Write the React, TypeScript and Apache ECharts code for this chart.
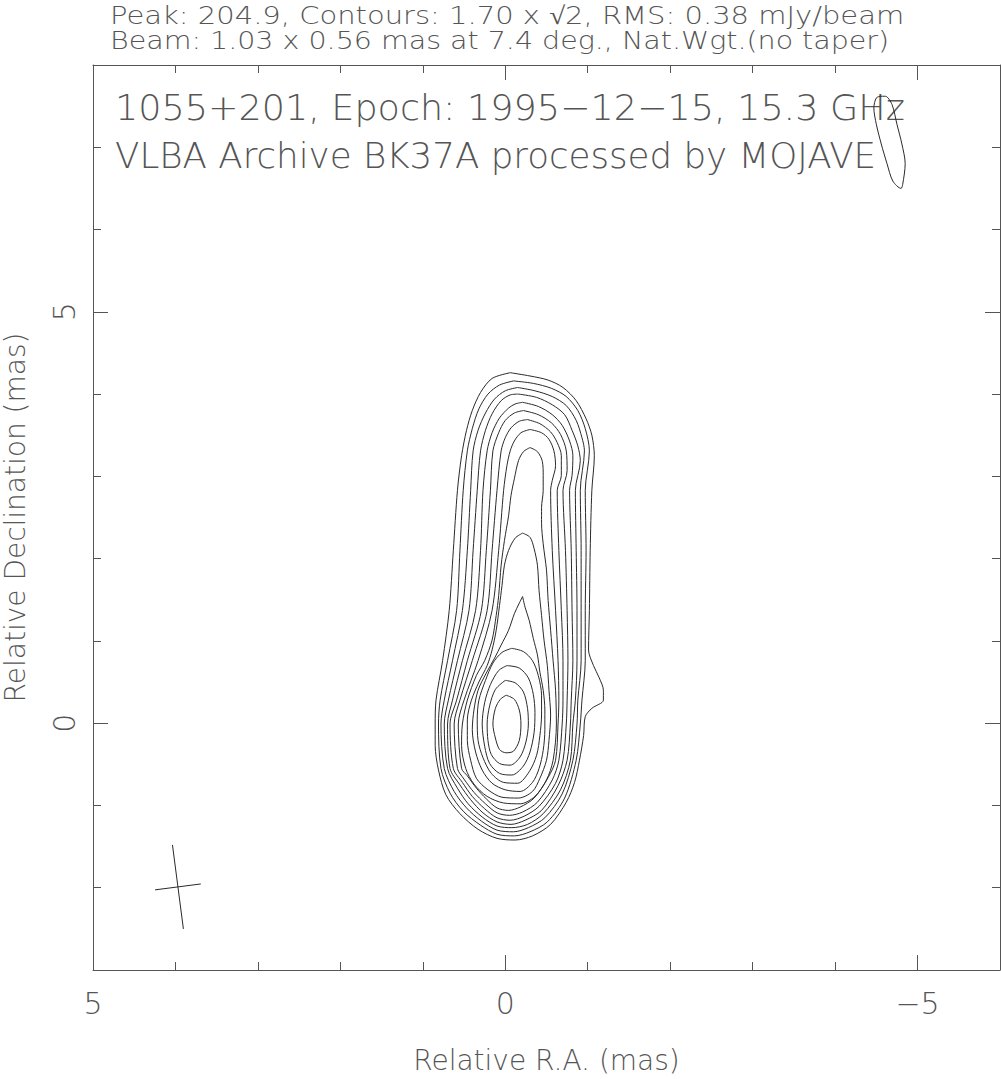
import React, { useEffect, useRef } from "react";
import * as echarts from "echarts";

const TITLE_LINES = [
  "Peak: 204.9, Contours: 1.70 x \u221A2, RMS: 0.38 mJy/beam",
  "Beam: 1.03 x 0.56 mas at 7.4 deg., Nat.Wgt.(no taper)",
];
const PLOT_LINES = [
  "1055+201, Epoch: 1995\u221212\u221215, 15.3 GHz",
  "VLBA Archive BK37A processed by MOJAVE",
];
const X_NAME = "Relative R.A. (mas)";
const Y_NAME = "Relative Declination (mas)";
const X_RANGE = [-6, 5];
const Y_RANGE = [-3, 8];
const X_MAJOR = [5, 0, -5];
const X_MINOR = [4, 3, 2, 1, -1, -2, -3, -4];
const Y_MAJOR = [0, 5];
const Y_MINOR = [-2, -1, 1, 2, 3, 4, 6, 7];
const BEAM_MAJOR = 1.03;
const BEAM_MINOR = 0.56;
const BEAM_PA = 7.4;
const BEAM_CENTER = [3.97, -1.99];

// contours, outermost (1.70 mJy/beam) to innermost, [RA offset, Dec offset] in mas
const C00 = [[-0.06,4.26],[-0.30,4.22],[-0.52,4.17],[-0.70,4.08],[-0.86,3.92],[-0.98,3.70],[-1.05,3.50],[-1.08,3.25],[-1.05,2.83],[-1.03,2.10],[-1.02,1.37],[-1.01,0.89],[-1.07,0.70],[-1.14,0.55],[-1.19,0.40],[-1.19,0.28],[-1.05,0.18],[-0.97,0.08],[-0.95,-0.15],[-0.90,-0.45],[-0.84,-0.72],[-0.74,-0.96],[-0.55,-1.23],[-0.33,-1.37],[-0.12,-1.42],[0.10,-1.40],[0.33,-1.29],[0.55,-1.10],[0.72,-0.87],[0.81,-0.57],[0.85,-0.27],[0.85,-0.01],[0.84,0.28],[0.76,0.76],[0.68,1.37],[0.63,2.10],[0.58,2.83],[0.53,3.25],[0.47,3.56],[0.40,3.80],[0.30,4.02],[0.16,4.19],[-0.06,4.26]];
const C01 = [[-0.10,4.16],[-0.34,4.13],[-0.56,4.07],[-0.74,3.97],[-0.88,3.80],[-0.97,3.58],[-1.02,3.31],[-0.97,2.83],[-0.98,2.10],[-0.97,1.37],[-0.97,0.76],[-0.93,0.28],[-0.91,-0.01],[-0.86,-0.45],[-0.72,-0.91],[-0.51,-1.20],[-0.30,-1.32],[-0.11,-1.37],[0.10,-1.35],[0.30,-1.24],[0.51,-1.07],[0.67,-0.85],[0.78,-0.55],[0.81,-0.01],[0.79,0.28],[0.70,0.76],[0.59,1.37],[0.55,2.10],[0.51,2.83],[0.46,3.31],[0.40,3.58],[0.32,3.82],[0.21,4.00],[0.07,4.11],[-0.10,4.16]];
const C02 = [[-0.15,4.08],[-0.36,4.04],[-0.57,3.97],[-0.74,3.86],[-0.86,3.68],[-0.93,3.47],[-0.96,3.31],[-0.91,2.83],[-0.92,2.10],[-0.92,1.37],[-0.92,0.76],[-0.88,0.28],[-0.87,-0.01],[-0.82,-0.45],[-0.69,-0.86],[-0.48,-1.15],[-0.28,-1.27],[-0.10,-1.32],[0.10,-1.30],[0.29,-1.19],[0.47,-1.03],[0.62,-0.83],[0.74,-0.55],[0.78,-0.01],[0.74,0.28],[0.64,0.76],[0.52,1.37],[0.46,2.10],[0.42,2.83],[0.39,3.31],[0.33,3.56],[0.24,3.77],[0.13,3.94],[0.00,4.04],[-0.15,4.08]];
const C03 = [[-0.16,4.00],[-0.38,3.96],[-0.57,3.87],[-0.72,3.75],[-0.81,3.56],[-0.88,3.37],[-0.91,3.19],[-0.85,2.83],[-0.86,2.10],[-0.87,1.37],[-0.87,0.76],[-0.85,0.28],[-0.82,-0.01],[-0.79,-0.45],[-0.67,-0.81],[-0.46,-1.10],[-0.27,-1.23],[-0.08,-1.27],[0.10,-1.25],[0.28,-1.14],[0.45,-0.98],[0.58,-0.79],[0.70,-0.55],[0.74,-0.01],[0.69,0.28],[0.58,0.76],[0.44,1.37],[0.39,2.10],[0.34,2.83],[0.30,3.31],[0.24,3.56],[0.16,3.76],[0.05,3.92],[-0.06,3.99],[-0.16,4.00]];
const C04 = [[-0.21,3.90],[-0.40,3.85],[-0.57,3.75],[-0.69,3.62],[-0.78,3.43],[-0.82,3.25],[-0.81,3.01],[-0.78,2.83],[-0.80,2.10],[-0.81,1.37],[-0.82,0.76],[-0.80,0.28],[-0.79,-0.01],[-0.75,-0.45],[-0.64,-0.76],[-0.44,-1.06],[-0.24,-1.18],[-0.07,-1.23],[0.10,-1.20],[0.27,-1.09],[0.42,-0.93],[0.55,-0.75],[0.67,-0.55],[0.70,-0.01],[0.64,0.28],[0.52,0.76],[0.36,1.37],[0.30,2.10],[0.27,2.83],[0.22,3.31],[0.16,3.53],[0.07,3.71],[-0.04,3.83],[-0.12,3.88],[-0.21,3.90]];
const C05 = [[-0.22,3.80],[-0.40,3.75],[-0.56,3.65],[-0.67,3.51],[-0.74,3.31],[-0.75,3.07],[-0.70,2.83],[-0.73,2.10],[-0.75,1.37],[-0.76,0.76],[-0.75,0.28],[-0.74,-0.01],[-0.70,-0.45],[-0.61,-0.73],[-0.41,-1.01],[-0.23,-1.13],[-0.06,-1.18],[0.10,-1.15],[0.25,-1.04],[0.40,-0.89],[0.52,-0.72],[0.63,-0.55],[0.67,-0.01],[0.59,0.28],[0.46,0.76],[0.29,1.37],[0.23,2.10],[0.18,2.83],[0.15,3.31],[0.08,3.53],[0.00,3.68],[-0.11,3.77],[-0.22,3.80]];
const C06 = [[-0.27,3.69],[-0.42,3.64],[-0.55,3.54],[-0.63,3.41],[-0.68,3.25],[-0.68,3.01],[-0.63,2.83],[-0.65,2.10],[-0.68,1.37],[-0.70,0.76],[-0.70,0.28],[-0.69,-0.01],[-0.65,-0.45],[-0.57,-0.69],[-0.39,-0.96],[-0.21,-1.08],[-0.05,-1.12],[0.10,-1.09],[0.24,-0.98],[0.38,-0.84],[0.50,-0.68],[0.58,-0.55],[0.62,-0.01],[0.55,0.28],[0.40,0.76],[0.22,1.37],[0.16,2.10],[0.10,2.83],[0.05,3.31],[0.00,3.47],[-0.07,3.59],[-0.17,3.67],[-0.27,3.69]];
const C07 = [[-0.30,3.57],[-0.44,3.53],[-0.53,3.45],[-0.59,3.31],[-0.61,3.13],[-0.57,2.95],[-0.55,2.83],[-0.57,2.10],[-0.61,1.37],[-0.64,0.76],[-0.65,0.28],[-0.64,-0.01],[-0.61,-0.45],[-0.52,-0.66],[-0.35,-0.91],[-0.18,-1.02],[-0.04,-1.06],[0.10,-1.03],[0.23,-0.92],[0.35,-0.79],[0.46,-0.64],[0.53,-0.55],[0.57,-0.01],[0.50,0.28],[0.33,0.76],[0.16,1.37],[0.08,2.10],[0.02,2.83],[-0.02,3.13],[-0.06,3.31],[-0.11,3.43],[-0.19,3.53],[-0.30,3.57]];
const C08 = [[-0.30,3.35],[-0.39,3.30],[-0.45,3.18],[-0.46,3.01],[-0.46,2.83],[-0.44,2.62],[-0.44,2.43],[-0.46,2.18],[-0.50,1.86],[-0.52,1.49],[-0.55,1.13],[-0.58,0.76],[-0.61,0.40],[-0.62,-0.01],[-0.58,-0.45],[-0.50,-0.69],[-0.36,-0.89],[-0.18,-0.98],[0.02,-0.97],[0.22,-0.89],[0.38,-0.74],[0.48,-0.55],[0.53,-0.27],[0.52,-0.01],[0.46,0.28],[0.35,0.58],[0.25,0.76],[0.16,1.01],[0.11,1.31],[0.08,1.55],[0.05,1.92],[0.01,2.22],[-0.04,2.52],[-0.07,2.77],[-0.11,2.97],[-0.16,3.19],[-0.22,3.30],[-0.30,3.35]];
const C09 = [[-0.21,2.31],[-0.30,2.26],[-0.35,2.12],[-0.39,1.92],[-0.41,1.61],[-0.44,1.31],[-0.47,1.01],[-0.51,0.70],[-0.53,0.40],[-0.55,0.10],[-0.53,-0.21],[-0.50,-0.45],[-0.42,-0.67],[-0.33,-0.83],[-0.16,-0.91],[0.04,-0.90],[0.21,-0.81],[0.35,-0.67],[0.42,-0.45],[0.46,-0.21],[0.46,0.04],[0.41,0.28],[0.32,0.50],[0.22,0.70],[0.16,0.89],[0.11,1.13],[0.07,1.43],[0.04,1.67],[0.01,1.92],[-0.04,2.10],[-0.12,2.25],[-0.21,2.31]];
const C10 = [[-0.21,1.54],[-0.24,1.41],[-0.29,1.25],[-0.34,1.03],[-0.39,0.83],[-0.42,0.62],[-0.46,0.40],[-0.48,0.16],[-0.48,-0.08],[-0.46,-0.33],[-0.41,-0.55],[-0.33,-0.72],[-0.18,-0.83],[0.00,-0.81],[0.16,-0.73],[0.28,-0.57],[0.36,-0.35],[0.40,-0.08],[0.38,0.16],[0.33,0.40],[0.23,0.61],[0.13,0.79],[0.05,0.95],[-0.04,1.13],[-0.11,1.33],[-0.17,1.46],[-0.21,1.54]];
const C11 = [[-0.08,0.91],[-0.22,0.87],[-0.33,0.76],[-0.40,0.58],[-0.44,0.34],[-0.44,0.10],[-0.42,-0.15],[-0.38,-0.39],[-0.29,-0.59],[-0.15,-0.73],[0.02,-0.72],[0.17,-0.61],[0.27,-0.42],[0.33,-0.21],[0.34,0.04],[0.32,0.28],[0.24,0.52],[0.15,0.73],[0.04,0.86],[-0.08,0.91]];
const C12 = [[-0.02,0.70],[-0.17,0.67],[-0.28,0.55],[-0.34,0.35],[-0.36,0.13],[-0.35,-0.11],[-0.30,-0.35],[-0.22,-0.52],[-0.08,-0.63],[0.07,-0.61],[0.19,-0.49],[0.25,-0.28],[0.28,-0.01],[0.25,0.25],[0.18,0.47],[0.08,0.64],[-0.02,0.70]];
const C13 = [[0.00,0.52],[-0.12,0.49],[-0.22,0.38],[-0.27,0.18],[-0.28,-0.01],[-0.25,-0.23],[-0.18,-0.41],[-0.06,-0.51],[0.07,-0.49],[0.17,-0.38],[0.21,-0.21],[0.22,-0.01],[0.19,0.21],[0.12,0.41],[0.00,0.52]];
const C14 = [[-0.01,0.34],[-0.11,0.29],[-0.17,0.16],[-0.19,-0.01],[-0.17,-0.21],[-0.10,-0.34],[-0.01,-0.36],[0.07,-0.32],[0.12,-0.18],[0.15,-0.01],[0.12,0.18],[0.06,0.29],[-0.01,0.34]];
// small outer-level island at the top right
const ISLAND = [[-4.55,7.62],[-4.61,7.62],[-4.69,7.52],[-4.75,7.28],[-4.81,7.04],[-4.85,6.80],[-4.82,6.55],[-4.80,6.50],[-4.70,6.59],[-4.63,6.80],[-4.56,7.04],[-4.50,7.28],[-4.47,7.48],[-4.50,7.60],[-4.55,7.62]];

const CONTOURS = [C00, C01, C02, C03, C04, C05, C06, C07, C08, C09, C10, C11, C12, C13, C14, ISLAND];

const FONT = "DejaVu Sans";
const TEXT_COLOR = "#555";
const LINE_COLOR = "#2a2a2a";
const FRAME_COLOR = "#555";

export default function App() {
  const ref = useRef<HTMLDivElement>(null);
  useEffect(() => {
    if (!ref.current) return;
    const chart = echarts.init(ref.current, undefined, { renderer: "svg" });

    const pa = (BEAM_PA * Math.PI) / 180;
    const [cx, cy] = BEAM_CENTER;
    const beamMajor = [
      [cx + (BEAM_MAJOR / 2) * Math.sin(pa), cy + (BEAM_MAJOR / 2) * Math.cos(pa)],
      [cx - (BEAM_MAJOR / 2) * Math.sin(pa), cy - (BEAM_MAJOR / 2) * Math.cos(pa)],
    ];
    const beamMinor = [
      [cx + (BEAM_MINOR / 2) * Math.cos(pa), cy - (BEAM_MINOR / 2) * Math.sin(pa)],
      [cx - (BEAM_MINOR / 2) * Math.cos(pa), cy + (BEAM_MINOR / 2) * Math.sin(pa)],
    ];

    const fmt = (v: number) => (v < 0 ? "\u2212" + Math.abs(v) : String(v));
    const xBase = { type: "value", min: X_RANGE[0], max: X_RANGE[1], inverse: true, splitLine: { show: false } };
    const yBase = { type: "value", min: Y_RANGE[0], max: Y_RANGE[1], splitLine: { show: false } };
    const frameLine = { show: true, onZero: false, lineStyle: { color: FRAME_COLOR, width: 1 } };
    const noLine = { show: false, onZero: false };
    const tick = (vals: number[], len: number) => ({
      show: true, inside: true, length: len, customValues: vals, lineStyle: { color: FRAME_COLOR, width: 1 },
    });
    const textStyle = { fontFamily: FONT, fontWeight: 200, color: TEXT_COLOR };

    const lineSeries = (data: number[][], smooth: number) => ({
      type: "line",
      data,
      showSymbol: false,
      symbol: "none",
      smooth,
      silent: true,
      lineStyle: { color: LINE_COLOR, width: 1 },
      xAxisIndex: 0,
      yAxisIndex: 0,
    });

    const gText = (text: string, x: number, y: number, size: number, sx: number) => ({
      type: "text", x, y, scaleX: sx,
      style: { text, fontFamily: FONT, fontWeight: 200, fontSize: size, lineHeight: size - 1, fill: TEXT_COLOR, textVerticalAlign: "middle" },
    });

    chart.setOption({
      animation: false,
      backgroundColor: "#fff",
      grid: { left: 93, top: 65, right: 1, bottom: 109, containLabel: false, outerBoundsMode: "none" },
      xAxis: [
        {
          ...xBase, position: "bottom", axisLine: frameLine, axisTick: tick(X_MAJOR, 15),
          axisLabel: { show: true, customValues: X_MAJOR, formatter: fmt, fontSize: 30, margin: 18, ...textStyle },
          name: X_NAME, nameLocation: "middle", nameGap: 76,
          nameTextStyle: { fontSize: 28, ...textStyle },
        },
        { ...xBase, position: "bottom", axisLine: noLine, axisTick: tick(X_MINOR, 8), axisLabel: { show: false } },
        { ...xBase, position: "top", axisLine: frameLine, axisTick: tick(X_MAJOR, 15), axisLabel: { show: false } },
        { ...xBase, position: "top", axisLine: noLine, axisTick: tick(X_MINOR, 8), axisLabel: { show: false } },
      ],
      yAxis: [
        {
          ...yBase, position: "left", axisLine: frameLine, axisTick: tick(Y_MAJOR, 15),
          axisLabel: { show: true, customValues: Y_MAJOR, formatter: fmt, rotate: 90, fontSize: 30, margin: 14, ...textStyle },
          name: Y_NAME, nameLocation: "middle", nameGap: 64, nameRotate: 90,
          nameTextStyle: { fontSize: 28, ...textStyle },
        },
        { ...yBase, position: "left", axisLine: noLine, axisTick: tick(Y_MINOR, 8), axisLabel: { show: false } },
        { ...yBase, position: "right", axisLine: frameLine, axisTick: tick(Y_MAJOR, 15), axisLabel: { show: false } },
        { ...yBase, position: "right", axisLine: noLine, axisTick: tick(Y_MINOR, 8), axisLabel: { show: false } },
      ],
      series: [
        ...CONTOURS.map((c) => lineSeries(c, 0.3)),
        lineSeries(beamMajor, 0),
        lineSeries(beamMinor, 0),
      ],
      graphic: [
        gText(TITLE_LINES[0], 110, 15, 25, 1.16),
        gText(TITLE_LINES[1], 110, 40, 25, 1.14),
        gText(PLOT_LINES[0], 115, 108, 36, 1.014),
        gText(PLOT_LINES[1], 115, 155, 36, 0.99),
      ],
    });
    return () => chart.dispose();
  }, []);
  return <div ref={ref} style={{ position: "fixed", left: 0, top: 0, width: 1001, height: 1079 }} />;
}
